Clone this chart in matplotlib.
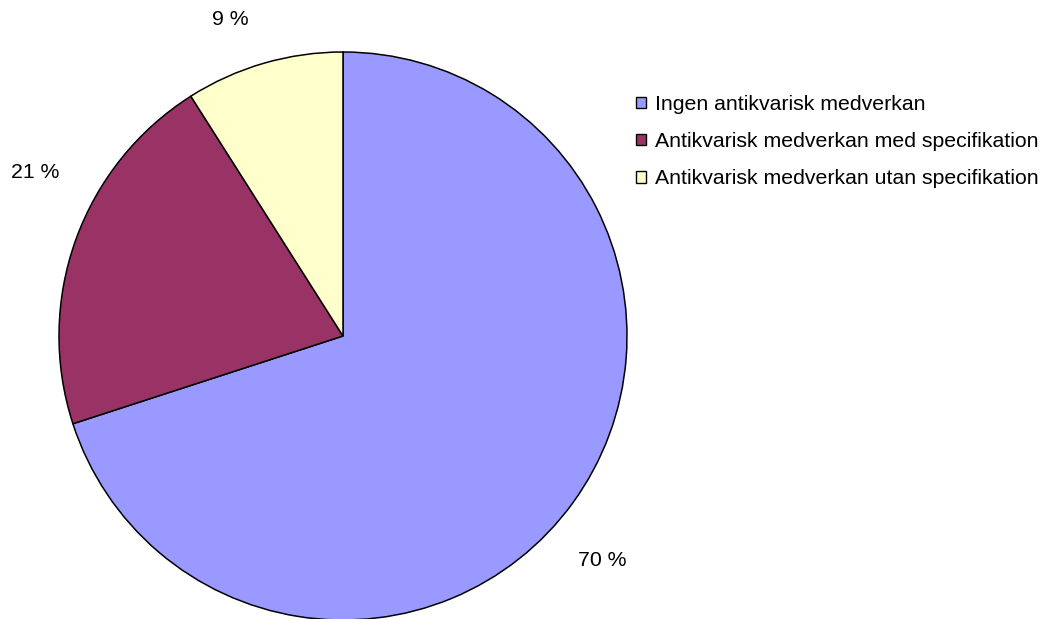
import matplotlib.pyplot as plt
from matplotlib.patches import Patch

plt.rcParams['font.family'] = ['Liberation Sans', 'DejaVu Sans']

categories = ['Ingen antikvarisk medverkan',
              'Antikvarisk medverkan med specifikation',
              'Antikvarisk medverkan utan specifikation']
shares = [70, 21, 9]
colors = ['#9999FF', '#993366', '#FFFFCC']
# where the percentage labels sit, in pie-radius units
label_pos = [(0.912, -0.789), (-1.085, 0.574), (-0.398, 1.113)]

fig = plt.figure(figsize=(10.57, 6.19), dpi=100)
# pie area: centre ~ (343, 336) px, radius ~284 px
ax = fig.add_axes([59 / 1057, -1 / 619, 568 / 1057, 568 / 619])
wedges, texts, autotexts = ax.pie(
    shares, colors=colors, startangle=90, counterclock=False,
    autopct=lambda p: f'{p:.0f} %', pctdistance=1.2, radius=1,
    wedgeprops=dict(edgecolor='black', linewidth=1.1),
    textprops=dict(fontsize=15.3, color='black'))
for t, pos in zip(autotexts, label_pos):
    t.set_position(pos)
ax.set_xlim(-1, 1)
ax.set_ylim(-1, 1)
ax.set_aspect('equal')
ax.axis('off')

handles = [Patch(facecolor=c, edgecolor='black', linewidth=1.0) for c in colors]
fig.legend(handles, categories, loc='upper left', bbox_to_anchor=(617 / 1057, 1 - 76 / 619),
           frameon=False, fontsize=15.3, handlelength=0.47, handleheight=0.47,
           handletextpad=0.42, labelspacing=0.85)

fig.savefig('out.png', dpi=100)
